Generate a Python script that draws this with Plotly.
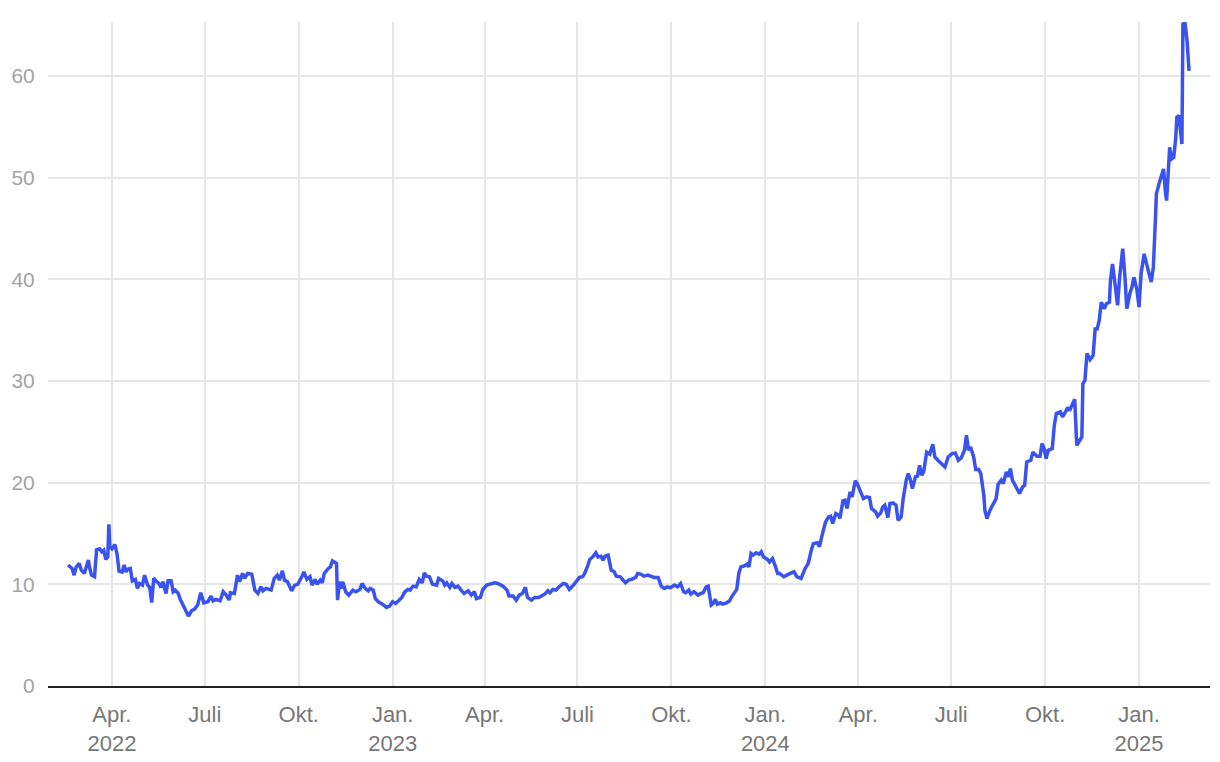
import plotly.graph_objects as go

# Daily closing price (approximate readings from the chart)
dates = [
    "2022-02-17", "2022-02-21", "2022-02-23", "2022-02-25", "2022-02-28", "2022-03-02", "2022-03-05",
    "2022-03-07", "2022-03-09", "2022-03-10", "2022-03-12", "2022-03-15", "2022-03-16", "2022-03-17",
    "2022-03-20", "2022-03-22", "2022-03-24", "2022-03-26", "2022-03-28", "2022-03-29", "2022-03-30",
    "2022-04-01", "2022-04-04", "2022-04-06", "2022-04-08", "2022-04-11", "2022-04-13", "2022-04-15",
    "2022-04-16", "2022-04-19", "2022-04-21", "2022-04-24", "2022-04-26", "2022-04-28", "2022-05-01",
    "2022-05-03", "2022-05-06", "2022-05-08", "2022-05-10", "2022-05-12", "2022-05-15", "2022-05-17",
    "2022-05-19", "2022-05-21", "2022-05-24", "2022-05-26", "2022-05-29", "2022-05-31", "2022-06-02",
    "2022-06-05", "2022-06-07", "2022-06-11", "2022-06-15", "2022-06-18", "2022-06-21", "2022-06-24",
    "2022-06-27", "2022-06-30", "2022-07-04", "2022-07-07", "2022-07-09", "2022-07-12", "2022-07-16",
    "2022-07-19", "2022-07-22", "2022-07-25", "2022-07-26", "2022-07-30", "2022-08-02", "2022-08-04",
    "2022-08-07", "2022-08-09", "2022-08-12", "2022-08-16", "2022-08-19", "2022-08-22", "2022-08-25",
    "2022-08-27", "2022-08-30", "2022-09-04", "2022-09-07", "2022-09-10", "2022-09-12", "2022-09-15",
    "2022-09-17", "2022-09-20", "2022-09-22", "2022-09-24", "2022-09-27", "2022-09-30", "2022-10-04",
    "2022-10-06", "2022-10-09", "2022-10-12", "2022-10-14", "2022-10-17", "2022-10-19", "2022-10-22",
    "2022-10-24", "2022-10-26", "2022-10-30", "2022-11-01", "2022-11-03", "2022-11-05", "2022-11-07",
    "2022-11-08", "2022-11-10", "2022-11-12", "2022-11-13", "2022-11-16", "2022-11-19", "2022-11-23",
    "2022-11-26", "2022-11-30", "2022-12-02", "2022-12-05", "2022-12-08", "2022-12-10", "2022-12-13",
    "2022-12-15", "2022-12-18", "2022-12-22", "2022-12-26", "2022-12-29", "2023-01-01", "2023-01-04",
    "2023-01-06", "2023-01-10", "2023-01-13", "2023-01-16", "2023-01-18", "2023-01-21", "2023-01-24",
    "2023-01-26", "2023-01-27", "2023-01-30", "2023-02-01", "2023-02-03", "2023-02-06", "2023-02-09",
    "2023-02-13", "2023-02-15", "2023-02-19", "2023-02-21", "2023-02-23", "2023-02-26", "2023-02-28",
    "2023-03-03", "2023-03-06", "2023-03-09", "2023-03-12", "2023-03-16", "2023-03-19", "2023-03-22",
    "2023-03-24", "2023-03-28", "2023-03-30", "2023-04-03", "2023-04-06", "2023-04-11", "2023-04-14",
    "2023-04-19", "2023-04-23", "2023-04-25", "2023-04-29", "2023-05-02", "2023-05-05", "2023-05-08",
    "2023-05-11", "2023-05-13", "2023-05-17", "2023-05-20", "2023-05-24", "2023-05-30", "2023-06-02",
    "2023-06-04", "2023-06-07", "2023-06-10", "2023-06-13", "2023-06-17", "2023-06-20", "2023-06-23",
    "2023-06-27", "2023-06-30", "2023-07-03", "2023-07-06", "2023-07-08", "2023-07-11", "2023-07-13",
    "2023-07-16", "2023-07-19", "2023-07-21", "2023-07-24", "2023-07-26", "2023-07-28", "2023-07-31",
    "2023-08-03", "2023-08-06", "2023-08-08", "2023-08-12", "2023-08-14", "2023-08-17", "2023-08-20",
    "2023-08-23", "2023-08-27", "2023-08-29", "2023-09-01", "2023-09-04", "2023-09-08", "2023-09-11",
    "2023-09-14", "2023-09-18", "2023-09-21", "2023-09-24", "2023-09-27", "2023-09-30", "2023-10-04",
    "2023-10-07", "2023-10-10", "2023-10-13", "2023-10-15", "2023-10-18", "2023-10-20", "2023-10-23",
    "2023-10-27", "2023-10-30", "2023-11-01", "2023-11-04", "2023-11-06", "2023-11-09", "2023-11-11",
    "2023-11-13", "2023-11-15", "2023-11-18", "2023-11-20", "2023-11-24", "2023-11-27", "2023-11-29",
    "2023-12-02", "2023-12-04", "2023-12-06", "2023-12-08", "2023-12-11", "2023-12-14", "2023-12-16",
    "2023-12-18", "2023-12-20", "2023-12-23", "2023-12-26", "2023-12-28", "2023-12-30", "2024-01-03",
    "2024-01-05", "2024-01-08", "2024-01-11", "2024-01-13", "2024-01-15", "2024-01-19", "2024-01-24",
    "2024-01-29", "2024-02-01", "2024-02-05", "2024-02-09", "2024-02-12", "2024-02-15", "2024-02-17",
    "2024-02-21", "2024-02-23", "2024-02-26", "2024-02-29", "2024-03-03", "2024-03-05", "2024-03-07",
    "2024-03-10", "2024-03-13", "2024-03-14", "2024-03-17", "2024-03-19", "2024-03-21", "2024-03-24",
    "2024-03-26", "2024-03-29", "2024-03-31", "2024-04-03", "2024-04-06", "2024-04-09", "2024-04-12",
    "2024-04-14", "2024-04-18", "2024-04-20", "2024-04-23", "2024-04-25", "2024-04-27", "2024-04-30",
    "2024-05-02", "2024-05-05", "2024-05-08", "2024-05-10", "2024-05-13", "2024-05-15", "2024-05-18",
    "2024-05-20", "2024-05-22", "2024-05-24", "2024-05-27", "2024-05-29", "2024-05-31", "2024-06-02",
    "2024-06-04", "2024-06-07", "2024-06-10", "2024-06-13", "2024-06-15", "2024-06-18", "2024-06-22",
    "2024-06-25", "2024-06-28", "2024-07-02", "2024-07-05", "2024-07-08", "2024-07-11", "2024-07-14",
    "2024-07-16", "2024-07-18", "2024-07-20", "2024-07-23", "2024-07-25", "2024-07-28", "2024-07-30",
    "2024-08-02", "2024-08-03", "2024-08-05", "2024-08-08", "2024-08-11", "2024-08-14", "2024-08-16",
    "2024-08-19", "2024-08-21", "2024-08-24", "2024-08-26", "2024-08-28", "2024-08-30", "2024-09-03",
    "2024-09-06", "2024-09-09", "2024-09-11", "2024-09-13", "2024-09-17", "2024-09-19", "2024-09-23",
    "2024-09-26", "2024-09-28", "2024-09-30", "2024-10-02", "2024-10-04", "2024-10-08", "2024-10-10",
    "2024-10-12", "2024-10-16", "2024-10-18", "2024-10-21", "2024-10-23", "2024-10-25", "2024-10-28",
    "2024-10-30", "2024-11-01", "2024-11-04", "2024-11-06", "2024-11-07", "2024-11-09", "2024-11-11",
    "2024-11-14", "2024-11-17", "2024-11-19", "2024-11-21", "2024-11-23", "2024-11-25", "2024-11-28",
    "2024-11-30", "2024-12-03", "2024-12-04", "2024-12-06", "2024-12-08", "2024-12-11", "2024-12-13",
    "2024-12-16", "2024-12-18", "2024-12-20", "2024-12-23", "2024-12-25", "2024-12-27", "2024-12-30",
    "2025-01-01", "2025-01-03", "2025-01-06", "2025-01-08", "2025-01-10", "2025-01-13", "2025-01-15",
    "2025-01-17", "2025-01-18", "2025-01-21", "2025-01-23", "2025-01-25", "2025-01-27", "2025-01-28",
    "2025-01-31", "2025-02-02", "2025-02-04", "2025-02-06", "2025-02-07", "2025-02-09", "2025-02-12",
    "2025-02-13", "2025-02-15", "2025-02-17", "2025-02-19",
]

prices = [
    11.9, 11.55, 10.9, 11.7, 12.05, 11.4, 11.07,
    11.7, 12.4, 11.7, 10.9, 10.74, 12.4, 13.4,
    13.5, 13.2, 13.36, 12.45, 12.7, 15.9, 13.7,
    13.5, 13.9, 13.0, 11.3, 11.2, 11.9, 11.2,
    11.46, 11.56, 10.34, 10.48, 9.6, 10.08, 9.92,
    10.9, 9.92, 9.7, 8.2, 10.6, 10.25, 10.1,
    9.7, 10.25, 9.1, 10.34, 10.34, 9.27, 9.43,
    9.1, 8.5, 7.63, 6.88, 7.4, 7.56, 7.96,
    9.17, 8.18, 8.28, 8.84, 8.38, 8.52, 8.38,
    9.27, 8.94, 8.45, 9.17, 9.1, 10.9, 10.25,
    11.07, 10.58, 11.07, 11.0, 9.43, 9.1, 9.75,
    9.36, 9.6, 9.43, 10.58, 10.9, 10.41, 11.33,
    10.41, 10.25, 9.75, 9.36, 9.92, 10.0, 10.74,
    11.23, 10.48, 10.74, 9.92, 10.48, 10.0, 10.41,
    10.15, 11.07, 11.56, 11.72, 12.3, 12.2, 12.05,
    8.45, 10.25, 9.6, 10.25, 9.27, 8.94, 9.43,
    9.27, 9.5, 10.08, 9.6, 9.36, 9.6, 9.43,
    8.6, 8.28, 8.05, 7.73, 7.86, 8.28, 8.12,
    8.35, 8.71, 9.27, 9.5, 9.43, 9.82, 9.75,
    10.25, 10.48, 10.15, 11.13, 10.8, 10.74, 10.0,
    9.92, 10.58, 10.34, 9.92, 10.15, 9.7, 10.08,
    9.7, 9.82, 9.43, 9.1, 9.36, 8.94, 9.27,
    8.6, 8.71, 9.43, 9.92, 10.0, 10.15, 10.08,
    9.82, 9.43, 8.84, 8.84, 8.45, 8.94, 9.1,
    9.7, 8.71, 8.45, 8.71, 8.71, 9.04, 9.36,
    9.17, 9.5, 9.43, 9.75, 10.08, 10.0, 9.5,
    9.92, 10.25, 10.68, 10.74, 11.07, 11.8, 12.45,
    12.7, 13.1, 12.7, 12.77, 12.38, 12.77, 12.87,
    11.4, 11.23, 10.8, 10.74, 10.48, 10.15, 10.41,
    10.48, 10.68, 11.07, 11.0, 10.8, 10.9, 10.8,
    10.68, 10.68, 9.82, 9.6, 9.75, 9.66, 9.92,
    9.75, 10.08, 9.27, 9.17, 9.43, 9.04, 9.27,
    8.94, 9.1, 9.17, 9.75, 9.82, 7.96, 8.12,
    8.52, 8.05, 8.18, 8.05, 8.18, 8.38, 8.77,
    9.27, 9.5, 11.07, 11.72, 11.8, 11.98, 11.72,
    13.03, 12.87, 13.1, 12.97, 13.2, 12.7, 12.45,
    12.2, 12.54, 11.72, 11.07, 11.07, 10.74, 11.0,
    11.23, 10.74, 10.58, 11.56, 12.05, 13.36, 14.0,
    14.08, 13.7, 15.0, 16.14, 16.63, 16.7, 15.98,
    16.96, 16.8, 16.47, 18.2, 18.27, 17.46, 19.1,
    18.6, 20.17, 19.9, 19.25, 18.43, 18.6, 18.54,
    17.46, 17.12, 16.7, 17.03, 17.6, 17.78, 16.57,
    17.95, 18.0, 17.78, 16.3, 16.63, 18.43, 20.24,
    20.9, 20.3, 19.42, 20.56, 20.63, 21.7, 20.73,
    21.05, 23.0, 22.8, 23.77, 22.52, 22.2, 21.87,
    21.54, 22.52, 22.85, 22.92, 22.2, 22.46, 23.18,
    24.66, 23.18, 23.5, 22.52, 21.28, 21.28, 20.9,
    18.76, 17.29, 16.47, 17.29, 17.95, 18.43, 19.84,
    20.24, 19.9, 21.05, 20.56, 21.38, 20.24, 19.52,
    18.93, 19.58, 19.74, 22.04, 22.2, 23.0, 22.59,
    22.59, 23.84, 23.35, 22.36, 23.18, 23.35, 25.64,
    26.8, 26.96, 26.47, 26.96, 27.4, 27.1, 27.77,
    28.2, 23.67, 24.16, 24.49, 29.73, 30.06, 32.7,
    32.1, 32.5, 35.1, 35.1, 35.95, 37.75, 37.1,
    37.6, 37.75, 39.9, 41.5, 39.9, 37.43, 40.2,
    43.0, 40.55, 37.1, 38.57, 39.22, 40.2, 38.9,
    37.26, 40.55, 42.5, 41.5, 40.86, 39.72, 41.19,
    45.78, 48.4, 49.54, 50.2, 50.85, 48.4, 47.74,
    52.98, 51.84, 52.0, 53.96, 55.93, 56.1, 53.3,
    65.1, 65.25, 63.46, 60.5,
]

tick_dates = ["2022-04-01", "2022-07-01", "2022-10-01", "2023-01-01", "2023-04-01", "2023-07-01",
              "2023-10-01", "2024-01-01", "2024-04-01", "2024-07-01", "2024-10-01", "2025-01-01"]
tick_labels = ["Apr.<br>2022", "Juli", "Okt.", "Jan.<br>2023", "Apr.", "Juli",
               "Okt.", "Jan.<br>2024", "Apr.", "Juli", "Okt.", "Jan.<br>2025"]
y_ticks = [0, 10, 20, 30, 40, 50, 60]

fig = go.Figure()
fig.add_trace(go.Scatter(
    x=dates, y=prices, mode="lines",
    line=dict(color="#3a52ee", width=3.5),
    hoverinfo="x+y", showlegend=False,
))

fig.update_layout(
    width=1220, height=762,
    margin=dict(l=48, r=10, t=22, b=76),
    paper_bgcolor="white", plot_bgcolor="white",
    font=dict(family="Liberation Sans, Arial, sans-serif", size=22),
    xaxis=dict(
        range=["2022-01-28 10:00", "2025-03-11 12:00"],
        tickmode="array", tickvals=tick_dates, ticktext=tick_labels,
        showgrid=True, gridcolor="#e6e6e6", gridwidth=2,
        showline=True, linecolor="#222222", linewidth=2,
        ticks="outside", ticklen=8, tickcolor="rgba(0,0,0,0)",
        tickfont=dict(color="#777777", size=22),
        zeroline=False, automargin=False,
    ),
    yaxis=dict(
        range=[0, 65.3],
        tickmode="array", tickvals=y_ticks,
        showgrid=True, gridcolor="#e6e6e6", gridwidth=2,
        zeroline=False, showline=False,
        ticks="outside", ticklen=8, tickcolor="rgba(0,0,0,0)",
        tickfont=dict(color="#a3a3a3", size=21),
        automargin=False,
    ),
)

fig.write_html("out.html", config={"displayModeBar": False},
               post_script="document.body.style.margin='0';")
